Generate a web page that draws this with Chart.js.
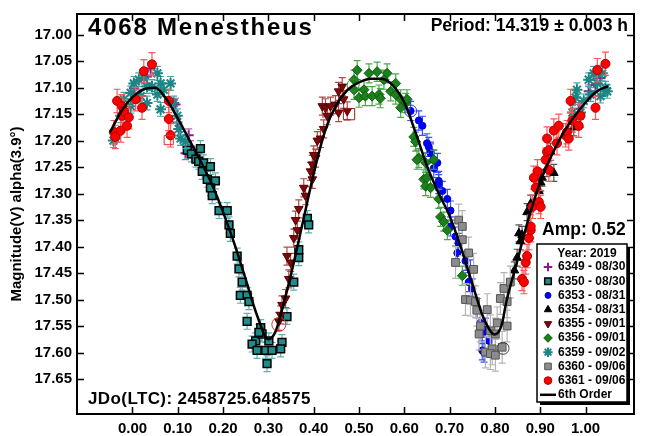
<!DOCTYPE html>
<html>
<head>
<meta charset="utf-8">
<script src="https://cdn.jsdelivr.net/npm/chart.js@4/dist/chart.umd.min.js"></script>
<style>
body { margin: 0; background: #fff; }
#wrap { position: relative; width: 645px; height: 436px; }
.lbl { position: absolute; font-family: Arial, "Liberation Sans", sans-serif; font-weight: bold; color: #000; white-space: nowrap; line-height: 1; }
</style>
</head>
<body>
<div id="wrap">
<canvas id="lightcurve" width="645" height="436"></canvas>
<div class="lbl" style="left:88px; top:15px; font-size:24px; letter-spacing:1.8px;">4068 Menestheus</div>
<div class="lbl" style="right:17px; top:17px; font-size:17.5px;">Period: 14.319 ± 0.003 h</div>
<div class="lbl" style="left:542px; top:221px; font-size:17.5px;">Amp: 0.52</div>
<div class="lbl" style="left:88px; top:390px; font-size:17px; letter-spacing:0.4px;">JDo(LTC): 2458725.648575</div>
</div>
<script>
// tick labels
const phaseTicks = [0.00, 0.10, 0.20, 0.30, 0.40, 0.50, 0.60, 0.70, 0.80, 0.90, 1.00];
const magTicks = [17.00, 17.05, 17.10, 17.15, 17.20, 17.25, 17.30, 17.35, 17.40, 17.45, 17.50, 17.55, 17.60, 17.65];

// sessions, in legend order
const sessions = ['6349 - 08/30', '6350 - 08/30', '6353 - 08/31', '6354 - 08/31', '6355 - 09/01',
                  '6356 - 09/01', '6359 - 09/02', '6360 - 09/06', '6361 - 09/06'];
// typical error bar per session (mag)
const sessionErr = [0.012, 0.015, 0.018, 0.016, 0.017, 0.018, 0.013, 0.030, 0.022];

// 6349 - 08/30
const p6349 = [0.040, 0.032, 0.003, 0.015, 0.095, 0.099, 0.124, 0.128, 0.117, 0.139, 0.985, 1.007, 1.022, 1.029, 1.033];
const m6349 = [17.064, 17.079, 17.101, 17.115, 17.132, 17.166, 17.190, 17.212, 17.224, 17.227, 17.140, 17.107, 17.095, 17.070, 17.082];

// 6350 - 08/30
const p6350 = [0.121, 0.130, 0.140, 0.150, 0.146, 0.157, 0.172, 0.154, 0.165, 0.183, 0.172, 0.176, 0.191, 0.209,
               0.213, 0.216, 0.231, 0.235, 0.242, 0.238, 0.253, 0.257, 0.253, 0.283, 0.272, 0.264, 0.286, 0.301,
               0.294, 0.297, 0.275, 0.308, 0.330, 0.327, 0.279, 0.341, 0.356, 0.367, 0.367, 0.386, 0.389];
const m6350 = [17.218, 17.225, 17.235, 17.215, 17.239, 17.242, 17.249, 17.258, 17.273, 17.276, 17.289, 17.304, 17.332, 17.332,
               17.359, 17.375, 17.418, 17.442, 17.467, 17.492, 17.492, 17.504, 17.541, 17.553, 17.578, 17.584, 17.565, 17.578,
               17.596, 17.621, 17.596, 17.596, 17.581, 17.593, 17.562, 17.532, 17.467, 17.421, 17.406, 17.347, 17.359];

// 6353 - 08/31
const p6353 = [0.614, 0.632, 0.640, 0.650, 0.654, 0.658, 0.665, 0.673, 0.676, 0.658, 0.665, 0.676, 0.684, 0.695, 0.702,
               0.702, 0.713, 0.720, 0.717, 0.735, 0.746, 0.742, 0.750, 0.761, 0.768, 0.772, 0.772, 0.787, 0.779, 0.776];
const m6353 = [17.144, 17.162, 17.172, 17.205, 17.212, 17.221, 17.236, 17.242, 17.276, 17.224, 17.252, 17.282, 17.295, 17.310, 17.332,
               17.362, 17.381, 17.393, 17.412, 17.427, 17.443, 17.467, 17.479, 17.516, 17.544, 17.565, 17.596, 17.578, 17.553, 17.600];

// 6354 - 08/31
const p6354 = [0.843, 0.849, 0.853, 0.856, 0.860, 0.871, 0.879, 0.897, 0.901, 0.904, 0.915, 0.923, 0.930, 0.974];
const m6354 = [17.445, 17.421, 17.375, 17.390, 17.378, 17.335, 17.319, 17.295, 17.279, 17.270, 17.252, 17.221, 17.261, 17.175];

// 6355 - 09/01
const p6355 = [0.323, 0.327, 0.330, 0.338, 0.345, 0.349, 0.341, 0.356, 0.364, 0.360, 0.367, 0.382, 0.378, 0.397, 0.393,
               0.404, 0.415, 0.422, 0.397, 0.400, 0.408, 0.430, 0.419, 0.426, 0.437, 0.448, 0.455, 0.474, 0.466, 0.455, 0.463];
const m6355 = [17.541, 17.529, 17.510, 17.498, 17.461, 17.430, 17.418, 17.384, 17.369, 17.350, 17.329, 17.304, 17.289, 17.273, 17.258,
               17.233, 17.196, 17.178, 17.245, 17.227, 17.200, 17.153, 17.135, 17.138, 17.135, 17.132, 17.147, 17.144, 17.122, 17.107, 17.098];

// 6356 - 09/01
const p6356 = [0.489, 0.496, 0.522, 0.540, 0.562, 0.555, 0.581, 0.489, 0.511, 0.500, 0.514, 0.529, 0.544, 0.547, 0.570, 0.581,
               0.592, 0.603, 0.592, 0.606, 0.621, 0.625, 0.632, 0.647, 0.643, 0.628, 0.650, 0.647, 0.658, 0.665, 0.676, 0.680,
               0.687, 0.695, 0.728];
const m6356 = [17.085, 17.067, 17.073, 17.070, 17.073, 17.085, 17.092, 17.104, 17.104, 17.119, 17.116, 17.116, 17.113, 17.120, 17.107, 17.113,
               17.122, 17.129, 17.138, 17.122, 17.193, 17.202, 17.233, 17.242, 17.273, 17.236, 17.270, 17.286, 17.289, 17.236, 17.310, 17.344,
               17.353, 17.369, 17.455];

// 6359 - 09/02
const p6359 = [-0.042, -0.035, -0.026, -0.019, -0.004, -0.004, 0.003, 0.014, 0.018, 0.025, 0.032, 0.032, 0.043, 0.055, 0.055,
               0.062, 0.062, 0.069, 0.084, 0.091, 0.099, 0.102, 0.106, 0.117,
               0.971, 0.978, 0.981, 0.989, 0.996, 1.007, 1.011, 1.018, 1.026, 1.033, 1.037, 1.044, 1.048];
const m6359 = [17.200, 17.190, 17.153, 17.122, 17.110, 17.135, 17.092, 17.085, 17.116, 17.082, 17.098, 17.129, 17.098, 17.073, 17.113,
               17.092, 17.141, 17.104, 17.092, 17.129, 17.153, 17.178, 17.196, 17.202,
               17.147, 17.119, 17.104, 17.147, 17.125, 17.085, 17.113, 17.073, 17.092, 17.116, 17.073, 17.101, 17.107];

// 6360 - 09/06
const p6360 = [0.713, 0.720, 0.728, 0.728, 0.735, 0.742, 0.753, 0.746, 0.757, 0.760, 0.768, 0.765, 0.783, 0.790, 0.801,
               0.805, 0.827, 0.779, 0.794, 0.816, 0.790, 0.801, 0.812, 0.820, 0.834, 0.827];
const m6360 = [17.430, 17.350, 17.362, 17.387, 17.500, 17.412, 17.443, 17.501, 17.504, 17.520, 17.550, 17.565, 17.519, 17.559, 17.565,
               17.544, 17.550, 17.599, 17.593, 17.590, 17.602, 17.605, 17.498, 17.479, 17.467, 17.504];

// 6361 - 09/06
const p6361 = [-0.041, -0.038, -0.034, -0.026, -0.023, -0.023, -0.019, -0.012, -0.008, 0.007, 0.021, 0.025, 0.043, 0.080, 0.080, 0.084,
               0.860, 0.864, 0.868, 0.871, 0.875, 0.879, 0.879, 0.883, 0.886, 0.890, 0.894, 0.897, 0.901, 0.912, 0.915, 0.915,
               0.919, 0.919, 0.930, 0.937, 0.941, 0.956, 0.959, 0.963, 0.967, 0.971, 0.985, 0.989, 1.022, 1.026, 1.044];
const m6361 = [17.184, 17.193, 17.125, 17.181, 17.135, 17.153, 17.144, 17.172, 17.156, 17.122, 17.138, 17.069, 17.056, 17.125, 17.159, 17.190,
               17.461, 17.467, 17.430, 17.418, 17.384, 17.369, 17.362, 17.325, 17.270, 17.289, 17.258, 17.316, 17.325, 17.236, 17.221, 17.196,
               17.255, 17.218, 17.181, 17.205, 17.172, 17.190, 17.184, 17.196, 17.125, 17.162, 17.172, 17.153, 17.138, 17.067, 17.055];

// hollow markers
const openCirclePhase = [0.323, 0.614, 0.818, 0.487];
const openCircleMag = [17.547, 17.144, 17.592, 17.095];
const openSquarePhase = [0.080, 0.478];
const openSquareMag = [17.199, 17.150];

// 6th order fit
const fitPhase = [-0.05, -0.025, 0.0, 0.025, 0.05, 0.075, 0.1, 0.125, 0.15, 0.175, 0.2, 0.225, 0.25, 0.275, 0.3, 0.315,
                  0.325, 0.35, 0.375, 0.4, 0.425, 0.45, 0.475, 0.5, 0.525, 0.55, 0.575, 0.6, 0.625, 0.65, 0.675, 0.7,
                  0.725, 0.75, 0.775, 0.8, 0.815, 0.825, 0.85, 0.875, 0.9, 0.925, 0.95, 0.975, 1.0, 1.025, 1.05];
const fitMag = [17.185, 17.145, 17.118, 17.103, 17.100, 17.122, 17.158, 17.198, 17.238, 17.282, 17.335, 17.395, 17.462, 17.530, 17.575, 17.562,
                17.535, 17.452, 17.358, 17.262, 17.182, 17.132, 17.104, 17.090, 17.083, 17.083, 17.096, 17.128, 17.185, 17.248, 17.298, 17.342,
                17.402, 17.470, 17.535, 17.566, 17.548, 17.505, 17.425, 17.345, 17.278, 17.228, 17.187, 17.155, 17.128, 17.107, 17.097];

const phases = [p6349, p6350, p6353, p6354, p6355, p6356, p6359, p6360, p6361];
const mags = [m6349, m6350, m6353, m6354, m6355, m6356, m6359, m6360, m6361];

function toXY(px, my) {
    return px.map((p, i) => ({x: p, y: my[i]}));
}

// marker look per session
const looks = [
    {pointStyle: 'cross', radius: 5, rotation: 0, backgroundColor: '#8e1a8e', borderColor: '#8e1a8e', borderWidth: 2, errColor: '#b060b0'},
    {pointStyle: 'rect', radius: 5.5, rotation: 0, backgroundColor: '#1f8c8c', borderColor: '#000000', borderWidth: 1.5, errColor: '#5fb0b0'},
    {pointStyle: 'circle', radius: 3.5, rotation: 0, backgroundColor: '#0000ff', borderColor: '#0000cc', borderWidth: 1, errColor: '#3a50ff'},
    {pointStyle: 'triangle', radius: 5, rotation: 0, backgroundColor: '#000000', borderColor: '#000000', borderWidth: 1, errColor: '#555555'},
    {pointStyle: 'triangle', radius: 5, rotation: 180, backgroundColor: '#7a0a0a', borderColor: '#5a0000', borderWidth: 1, errColor: '#b04848'},
    {pointStyle: 'rectRot', radius: 5, rotation: 0, backgroundColor: '#1b7f1b', borderColor: '#0d5e0d', borderWidth: 1, errColor: '#4aa84a'},
    {pointStyle: 'star', radius: 5.5, rotation: 0, backgroundColor: '#1c8585', borderColor: '#1c8585', borderWidth: 2, errColor: '#4aa6a6'},
    {pointStyle: 'rect', radius: 5.5, rotation: 0, backgroundColor: '#8c8c8c', borderColor: '#555555', borderWidth: 1, errColor: '#b4b4b4'},
    {pointStyle: 'circle', radius: 4.5, rotation: 0, backgroundColor: '#ff0000', borderColor: '#b00000', borderWidth: 1, errColor: '#ff5656'},
];

let datasets = [];
sessions.forEach((name, i) => {
    const look = looks[i];
    datasets.push({
        label: name,
        data: toXY(phases[i], mags[i]),
        err: sessionErr[i],
        errColor: look.errColor,
        pointStyle: look.pointStyle,
        pointRadius: look.radius,
        pointRotation: look.rotation,
        pointBackgroundColor: look.backgroundColor,
        pointBorderColor: look.borderColor,
        pointBorderWidth: look.borderWidth,
        showLine: false,
        order: 20 - i,
    });
});
datasets.push({
    label: 'open circles',
    data: toXY(openCirclePhase, openCircleMag),
    pointStyle: 'circle',
    pointRadius: [7, 6, 6, 6],
    pointBackgroundColor: 'rgba(0,0,0,0)',
    pointBorderColor: ['#e03030', '#2040ff', '#404040', '#2a9a2a'],
    pointBorderWidth: 1,
    showLine: false,
    order: 5,
});
datasets.push({
    label: 'open squares',
    data: toXY(openSquarePhase, openSquareMag),
    pointStyle: 'rect',
    pointRadius: [6.5, 8],
    pointBackgroundColor: 'rgba(0,0,0,0)',
    pointBorderColor: ['#e03030', '#902020'],
    pointBorderWidth: 1,
    showLine: false,
    order: 5,
});
datasets.push({
    type: 'line',
    label: '6th Order',
    data: toXY(fitPhase, fitMag),
    borderColor: '#000000',
    borderWidth: 2.5,
    pointRadius: 0,
    cubicInterpolationMode: 'monotone',
    fill: false,
    order: 0,
});

const tickFont = {family: 'Arial, "Liberation Sans", sans-serif', size: 15, weight: 'bold'};

const lightcurvePlugin = {
    id: 'lightcurve',
    beforeDatasetDraw(chart, args) {
        const ds = chart.data.datasets[args.index];
        if (ds.err === undefined) {
            return;
        }
        const ctx = chart.ctx;
        const ys = chart.scales.y;
        const area = chart.chartArea;
        ctx.save();
        ctx.beginPath();
        ctx.rect(area.left, area.top, area.width, area.height);
        ctx.clip();
        ctx.strokeStyle = ds.errColor;
        ctx.lineWidth = 1.2;
        args.meta.data.forEach((pt, i) => {
            const v = ds.data[i].y;
            const y1 = ys.getPixelForValue(v - ds.err);
            const y2 = ys.getPixelForValue(v + ds.err);
            ctx.beginPath();
            ctx.moveTo(pt.x, y1);
            ctx.lineTo(pt.x, y2);
            ctx.moveTo(pt.x - 3.5, y1);
            ctx.lineTo(pt.x + 3.5, y1);
            ctx.moveTo(pt.x - 3.5, y2);
            ctx.lineTo(pt.x + 3.5, y2);
            ctx.stroke();
        });
        ctx.restore();
    },
    afterDraw(chart) {
        const ctx = chart.ctx;
        const area = chart.chartArea;
        const xs = chart.scales.x;
        const ys = chart.scales.y;
        ctx.save();
        // frame and inner ticks
        ctx.strokeStyle = '#000';
        ctx.lineWidth = 2;
        ctx.strokeRect(area.left, area.top, area.width, area.height);
        ctx.lineWidth = 1.5;
        ctx.beginPath();
        phaseTicks.forEach((v) => {
            const x = Math.round(xs.getPixelForValue(v)) + 0.5;
            ctx.moveTo(x, area.bottom);
            ctx.lineTo(x, area.bottom - 7);
            ctx.moveTo(x, area.top);
            ctx.lineTo(x, area.top + 7);
        });
        magTicks.forEach((v) => {
            const y = Math.round(ys.getPixelForValue(v)) + 0.5;
            ctx.moveTo(area.left, y);
            ctx.lineTo(area.left + 7, y);
            ctx.moveTo(area.right, y);
            ctx.lineTo(area.right - 7, y);
        });
        ctx.stroke();

        // legend box
        const bx = 537, by = 244, bw = 90, bh = 158;
        ctx.fillStyle = '#000';
        ctx.fillRect(bx + 3, by + 3, bw, bh);
        ctx.fillStyle = '#fff';
        ctx.fillRect(bx, by, bw, bh);
        ctx.strokeStyle = '#000';
        ctx.lineWidth = 1.5;
        ctx.strokeRect(bx, by, bw, bh);

        ctx.font = 'bold 12px Arial, "Liberation Sans", sans-serif';
        ctx.textBaseline = 'middle';
        ctx.textAlign = 'center';
        ctx.fillStyle = '#000';
        ctx.fillText('Year: 2019', bx + 50, by + 10);
        ctx.textAlign = 'left';
        sessions.forEach((name, i) => {
            const look = looks[i];
            const y = by + 23 + i * 14.2;
            ctx.fillStyle = look.backgroundColor;
            ctx.strokeStyle = look.borderColor;
            ctx.lineWidth = look.borderWidth;
            Chart.helpers.drawPoint(ctx, {
                pointStyle: look.pointStyle,
                radius: look.radius * 0.85,
                rotation: look.rotation,
                borderWidth: look.borderWidth,
            }, bx + 11, y);
            ctx.fillStyle = '#000';
            ctx.fillText(name, bx + 21, y);
        });
        const ly = by + 23 + sessions.length * 14.2;
        ctx.strokeStyle = '#000';
        ctx.lineWidth = 2.5;
        ctx.beginPath();
        ctx.moveTo(bx + 3, ly);
        ctx.lineTo(bx + 19, ly);
        ctx.stroke();
        ctx.fillStyle = '#000';
        ctx.fillText('6th Order', bx + 21, ly);
        ctx.restore();
    },
};

new Chart(document.getElementById('lightcurve'), {
    type: 'scatter',
    data: {datasets: datasets},
    options: {
        responsive: false,
        animation: false,
        events: [],
        layout: {padding: {top: 6, right: 11, left: 0, bottom: 0}},
        plugins: {legend: {display: false}, tooltip: {enabled: false}},
        scales: {
            x: {
                type: 'linear',
                min: -0.1225,
                max: 1.107,
                afterBuildTicks: (scale) => { scale.ticks = phaseTicks.map((v) => ({value: v})); },
                afterFit: (scale) => { scale.height = 22; },
                grid: {display: false, drawTicks: false},
                border: {display: false},
                ticks: {
                    font: tickFont,
                    color: '#000',
                    padding: 6,
                    maxRotation: 0,
                    autoSkip: false,
                    callback: (v) => Number(v).toFixed(2),
                },
            },
            y: {
                type: 'linear',
                reverse: true,
                min: 16.961,
                max: 17.716,
                afterBuildTicks: (scale) => { scale.ticks = magTicks.map((v) => ({value: v})); },
                afterFit: (scale) => { scale.width = 77; },
                grid: {display: false, drawTicks: false},
                border: {display: false},
                title: {
                    display: true,
                    text: 'Magnitude(V) alpha(3.9°)',
                    color: '#000',
                    font: {family: 'Arial, "Liberation Sans", sans-serif', size: 15, weight: 'bold'},
                    padding: {top: 8, bottom: 0},
                },
                ticks: {
                    font: tickFont,
                    color: '#000',
                    padding: 5,
                    autoSkip: false,
                    callback: (v) => Number(v).toFixed(2),
                },
            },
        },
    },
    plugins: [lightcurvePlugin],
});
</script>
</body>
</html>
